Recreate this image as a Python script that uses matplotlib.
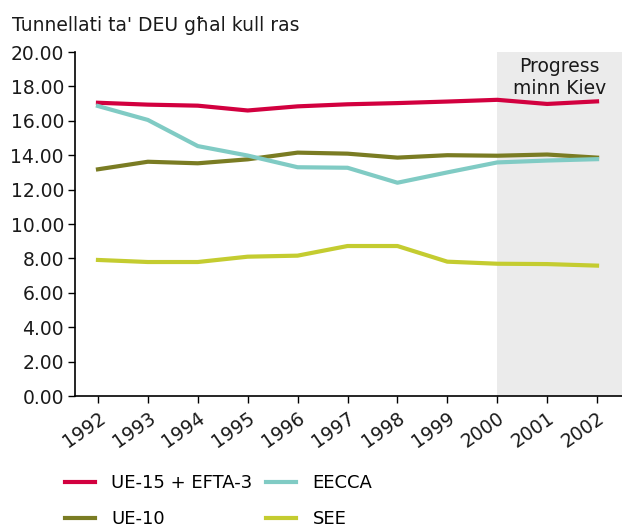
import numpy as np
import matplotlib
matplotlib.use("Agg")
import matplotlib.pyplot as plt

years = ['1992', '1993', '1994', '1995', '1996', '1997', '1998', '1999', '2000', '2001', '2002']
ue15_efta3 = [17.05, 16.94, 16.88, 16.60, 16.84, 16.96, 17.03, 17.12, 17.22, 16.98, 17.13]
ue10 = [13.18, 13.62, 13.53, 13.76, 14.15, 14.09, 13.86, 14.00, 13.97, 14.04, 13.86]
eecca = [16.86, 16.05, 14.53, 13.98, 13.30, 13.27, 12.40, 13.00, 13.58, 13.69, 13.77]
see = [7.91, 7.79, 7.79, 8.10, 8.16, 8.72, 8.72, 7.81, 7.69, 7.67, 7.58]

plt.rcParams['font.family'] = ['DejaVu Sans']

fig = plt.figure(figsize=(6.22, 5.28), dpi=100)
ax = fig.add_axes([0.1206, 0.25, 0.8794, 0.6515])

x = np.arange(len(years))
ax.axvspan(8, 10.5, color='#ebebeb', zorder=0, lw=0)

lw = 3
ax.plot(x, ue15_efta3, color='#d2003f', lw=lw, label='UE-15 + EFTA-3')
ax.plot(x, ue10, color='#7a7c23', lw=lw, label='UE-10')
ax.plot(x, eecca, color='#80cbc4', lw=lw, label='EECCA')
ax.plot(x, see, color='#c4cc30', lw=lw, label='SEE')

ax.set_xlim(-0.46, 10.5)
ax.set_ylim(0, 20)
ax.set_yticks(np.arange(0, 21, 2))
ax.set_yticklabels([f"{v:.2f}" for v in np.arange(0, 21, 2)], fontsize=13.5)
ax.set_xticks(x)
ax.set_xticklabels(years, rotation=35, ha='right', rotation_mode='anchor', fontsize=13.5)
ax.tick_params(axis='both', direction='out', length=5, width=1, colors='#000000', labelcolor='#1a1a1a')
ax.tick_params(axis='y', pad=3)
ax.tick_params(axis='x', pad=4)

for s in ['top', 'right']:
    ax.spines[s].set_visible(False)
for s in ['left', 'bottom']:
    ax.spines[s].set_linewidth(1.2)

ax.text(9.25, 18.52, 'Progress\nminn Kiev', ha='center', va='center', fontsize=13.5, color='#1a1a1a',
        linespacing=1.15)

fig.text(0.019, 0.952, "Tunnellati ta' DEU għal kull ras", fontsize=13.5, color='#1a1a1a', va='center')

fig.legend(loc='lower left', bbox_to_anchor=(0.0785, -0.031), ncol=2, frameon=False, fontsize=13,
           handlelength=1.65, handletextpad=0.9, columnspacing=0.78, labelspacing=1.0)

fig.savefig('out.png', dpi=100)
